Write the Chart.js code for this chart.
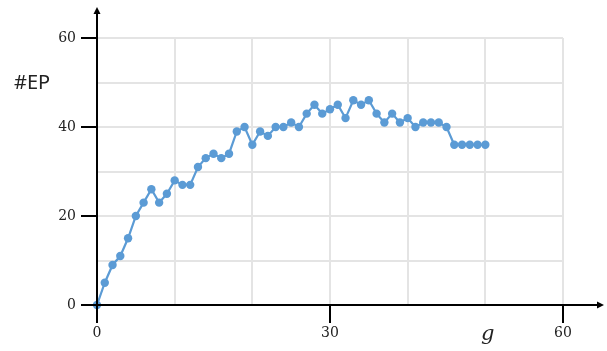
<!DOCTYPE html>
<html>
<head>
<meta charset="utf-8">
<script src="https://cdn.jsdelivr.net/npm/chart.js@4"></script>
<style>
  html, body { margin: 0; padding: 0; background: #fff; }
  #wrap { width: 607px; height: 351px; }
</style>
</head>
<body>
<div id="wrap"><canvas id="c" width="607" height="351"></canvas></div>
<script>
// Generation index and number of EP found at that generation
const generations = [
  0, 1, 2, 3, 4, 5, 6, 7, 8, 9,
  10, 11, 12, 13, 14, 15, 16, 17, 18, 19,
  20, 21, 22, 23, 24, 25, 26, 27, 28, 29,
  30, 31, 32, 33, 34, 35, 36, 37, 38, 39,
  40, 41, 42, 43, 44, 45, 46, 47, 48, 49, 50
];
const epCounts = [
  0, 5, 9, 11, 15, 20, 23, 26, 23, 25,
  28, 27, 27, 31, 33, 34, 33, 34, 39, 40,
  36, 39, 38, 40, 40, 41, 40, 43, 45, 43,
  44, 45, 42, 46, 45, 46, 43, 41, 43, 41,
  42, 40, 41, 41, 41, 40, 36, 36, 36, 36, 36
];
const xTickLabels = [0, 30, 60];
const yTickLabels = [0, 20, 40, 60];
const xTitle = 'g';
const yTitle = '#EP';

const points = generations.map((g, i) => ({ x: g, y: epCounts[i] }));

const tickFont = { family: 'DejaVu Serif', size: 14 };
const gridColor = '#e4e4e4';

// Draws the two axis lines with arrowheads plus the axis captions
const axesPlugin = {
  id: 'arrowAxes',
  afterDatasetsDraw(chart) {
    const { ctx, scales: { x, y } } = chart;
    const x0 = x.getPixelForValue(0);
    const y0 = y.getPixelForValue(0);
    ctx.save();
    ctx.strokeStyle = '#000';
    ctx.fillStyle = '#000';
    ctx.lineWidth = 2;
    // vertical axis
    ctx.beginPath();
    ctx.moveTo(x0, y0 + 18);
    ctx.lineTo(x0, 12);
    ctx.stroke();
    ctx.beginPath();
    ctx.moveTo(x0, 7);
    ctx.lineTo(x0 - 3.5, 14);
    ctx.lineTo(x0 + 3.5, 14);
    ctx.closePath();
    ctx.fill();
    // horizontal axis
    ctx.beginPath();
    ctx.moveTo(x0 - 16, y0);
    ctx.lineTo(598, y0);
    ctx.stroke();
    ctx.beginPath();
    ctx.moveTo(604, y0);
    ctx.lineTo(597, y0 - 3.5);
    ctx.lineTo(597, y0 + 3.5);
    ctx.closePath();
    ctx.fill();
    // captions
    ctx.fillStyle = '#222';
    ctx.font = '20px "Noto Sans"';
    ctx.textAlign = 'left';
    ctx.textBaseline = 'alphabetic';
    ctx.fillText(yTitle, 14, 89);
    ctx.font = 'italic 21px "DejaVu Serif"';
    ctx.fillText(xTitle, 481, 340);
    ctx.restore();
  }
};

new Chart(document.getElementById('c'), {
  type: 'line',
  data: {
    datasets: [{
      data: points,
      borderColor: '#5b9bd5',
      backgroundColor: '#5b9bd5',
      borderWidth: 2.2,
      pointRadius: 4.2,
      pointHoverRadius: 4.2,
      pointBorderWidth: 0,
      tension: 0,
      clip: false
    }]
  },
  options: {
    responsive: false,
    animation: false,
    events: [],
    layout: { padding: { left: 0, right: 44, top: 38, bottom: 0 } },
    plugins: { legend: { display: false }, tooltip: { enabled: false } },
    scales: {
      x: {
        type: 'linear',
        min: 0,
        max: 60,
        afterFit(scale) { scale.height = 46; },
        border: { display: false },
        grid: {
          color: gridColor,
          lineWidth: 2,
          tickLength: 18,
          tickWidth: 2,
          tickColor: (c) => xTickLabels.includes(c.tick.value) ? '#000' : 'rgba(0,0,0,0)'
        },
        ticks: {
          stepSize: 10,
          padding: 2,
          maxRotation: 0,
          autoSkip: false,
          color: '#222',
          font: tickFont,
          callback: (v) => xTickLabels.includes(v) ? String(v) : ''
        }
      },
      y: {
        type: 'linear',
        min: 0,
        max: 60,
        afterFit(scale) { scale.width = 97; },
        border: { display: false },
        grid: {
          color: gridColor,
          lineWidth: 2,
          tickLength: 16,
          tickWidth: 2,
          tickColor: (c) => yTickLabels.includes(c.tick.value) ? '#000' : 'rgba(0,0,0,0)'
        },
        ticks: {
          stepSize: 10,
          padding: 5,
          autoSkip: false,
          color: '#222',
          font: tickFont,
          callback: (v) => yTickLabels.includes(v) ? String(v) : ''
        }
      }
    }
  },
  plugins: [axesPlugin]
});
</script>
</body>
</html>
